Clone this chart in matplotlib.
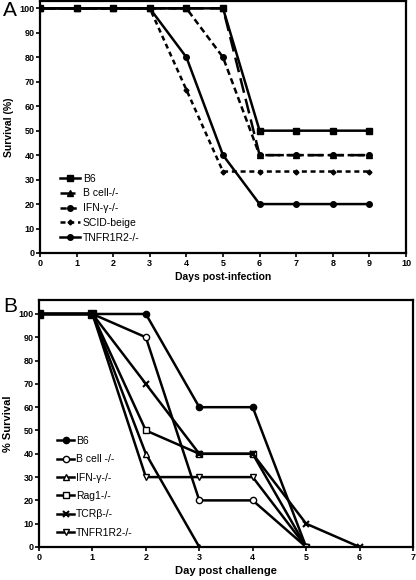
import matplotlib
matplotlib.use("Agg")
import matplotlib.pyplot as plt

plt.rcParams['font.family'] = ['Liberation Sans', 'DejaVu Sans']

# Panel A data
days_a = [0, 1, 2, 3, 4, 5, 6, 7, 8, 9]
b6_a = [100, 100, 100, 100, 100, 100, 50, 50, 50, 50]
bcell_a = [100, 100, 100, 100, 100, 100, 40, 40, 40, 40]
ifng_a = [100, 100, 100, 100, 100, 80, 40, 40, 40, 40]
scid_a = [100, 100, 100, 100, 66.7, 33.3, 33.3, 33.3, 33.3, 33.3]
tnfr_a = [100, 100, 100, 100, 80, 40, 20, 20, 20, 20]
labels_a = ["B6", "B cell-/-", "IFN-\u03b3-/-", "SCID-beige", "TNFR1R2-/-"]

# Panel B data
b6_b_x = [0, 1, 2, 3, 4, 5]
b6_b = [100, 100, 100, 60, 60, 0]
bcell_b_x = [0, 1, 2, 3, 4, 5]
bcell_b = [100, 100, 90, 20, 20, 0]
ifng_b_x = [0, 1, 2, 3]
ifng_b = [100, 100, 40, 0]
rag_b_x = [0, 1, 2, 3, 4, 5]
rag_b = [100, 100, 50, 40, 40, 0]
tcr_b_x = [0, 1, 2, 3, 4, 5, 6]
tcr_b = [100, 100, 70, 40, 40, 10, 0]
tnfr_b_x = [0, 1, 2, 3, 4, 5]
tnfr_b = [100, 100, 30, 30, 30, 0]
labels_b = ["B6", "B cell -/-", "IFN-\u03b3-/-", "Rag1-/-", "TCR\u03b2-/-", "TNFR1R2-/-"]

fig = plt.figure(figsize=(4.16, 5.8), dpi=100)
W, H = 416, 580

def add_ax(l, t, r, b):
    return fig.add_axes([l / W, 1 - b / H, (r - l) / W, (b - t) / H])

lw = 1.8
tickfs = 6.5

def style(ax):
    for s in ax.spines.values():
        s.set_linewidth(1.6)
    ax.tick_params(direction='out', length=3, width=1.2, labelsize=tickfs, pad=1)
    for lab in ax.get_xticklabels() + ax.get_yticklabels():
        lab.set_fontweight('bold')

# ---- Panel A ----
axA = add_ax(40, 1, 406, 253)
k = dict(color='black', lw=lw, ms=4)
axA.plot(days_a, b6_a, '-', marker='s', label=labels_a[0], **k)
axA.plot(days_a, bcell_a, marker='^', dashes=(6, 2.5), label=labels_a[1], **k)
axA.plot(days_a, ifng_a, marker='o', dashes=(2.5, 1.5), label=labels_a[2], **k)
axA.plot(days_a, scid_a, marker='D', dashes=(2, 1.5), label=labels_a[3],
         color='black', lw=lw, ms=2.5)
axA.plot(days_a, tnfr_a, '-', marker='o', label=labels_a[4], **k)
axA.set_xlim(0, 10)
axA.set_ylim(0, 103)
axA.set_xticks(range(0, 11))
axA.set_yticks(range(0, 101, 10))
axA.set_xlabel("Days post-infection", fontsize=7.5, fontweight='bold', labelpad=3)
axA.set_ylabel("Survival (%)", fontsize=7.5, fontweight='bold', labelpad=4)
style(axA)
axA.legend(loc='upper left', bbox_to_anchor=(0.04, 0.335), frameon=False,
           fontsize=7.5, handlelength=1.9, handletextpad=0.3,
           labelspacing=0.45, borderpad=0)
fig.text(3 / W, 1 - 10 / H, "A", fontsize=15, va='center', ha='left')

# ---- Panel B ----
axB = add_ax(39, 300, 413, 547)
kb = dict(color='black', lw=lw, ms=4.5)
axB.plot(b6_b_x, b6_b, '-', marker='o', label=labels_b[0], **kb)
axB.plot(bcell_b_x, bcell_b, '-', marker='o', mfc='white', label=labels_b[1], **kb)
axB.plot(ifng_b_x, ifng_b, '-', marker='^', mfc='white', label=labels_b[2], **kb)
axB.plot(rag_b_x, rag_b, '-', marker='s', mfc='white', label=labels_b[3], **kb)
axB.plot(tcr_b_x, tcr_b, '-', marker='x', mew=1.5, label=labels_b[4], **kb)
axB.plot(tnfr_b_x, tnfr_b, '-', marker='v', mfc='white', label=labels_b[5], **kb)
axB.plot([0, 1], [100, 100], 's', color='black', ms=6)
axB.set_xlim(0, 7)
axB.set_ylim(0, 106)
axB.set_xticks(range(0, 8))
axB.set_yticks(range(0, 101, 10))
axB.set_xlabel("Day post challenge", fontsize=8, fontweight='bold', labelpad=3)
axB.set_ylabel("% Survival", fontsize=8, fontweight='bold', labelpad=4)
style(axB)
axB.legend(loc='upper left', bbox_to_anchor=(0.035, 0.47), frameon=False,
           fontsize=7.5, handlelength=1.6, handletextpad=0.2,
           labelspacing=0.8, borderpad=0)
fig.text(3 / W, 1 - 306 / H, "B", fontsize=15, va='center', ha='left')

fig.savefig("out.png", dpi=100)
